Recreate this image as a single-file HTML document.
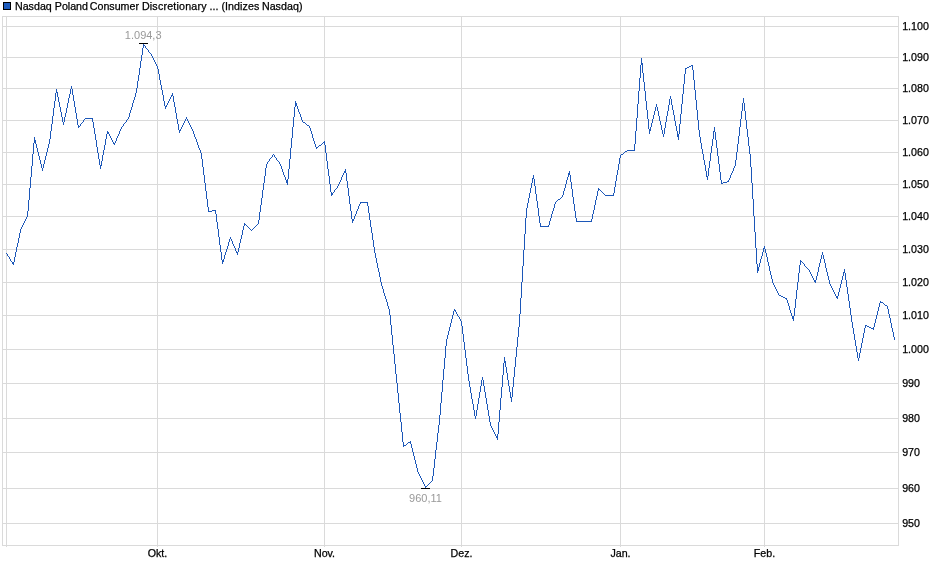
<!DOCTYPE html>
<html><head><meta charset="utf-8"><title>Chart</title>
<style>
html,body{margin:0;padding:0;background:#fff;}
body{width:940px;height:579px;overflow:hidden;font-family:"Liberation Sans",sans-serif;}
svg{display:block;will-change:transform;}
svg text{font-family:"Liberation Sans",sans-serif;font-size:10.67px;fill:#000;stroke:#000;stroke-width:0.25px;}
</style></head><body>
<svg width="940" height="579" viewBox="0 0 940 579">
<rect x="0" y="0" width="940" height="579" fill="#ffffff"/>
<g shape-rendering="crispEdges" stroke="#dadada" stroke-width="1" fill="none">
<rect x="2.5" y="16.5" width="896" height="529"/>
<line x1="3" y1="26.5" x2="898" y2="26.5"/>
<line x1="3" y1="57.5" x2="898" y2="57.5"/>
<line x1="3" y1="88.5" x2="898" y2="88.5"/>
<line x1="3" y1="120.5" x2="898" y2="120.5"/>
<line x1="3" y1="152.5" x2="898" y2="152.5"/>
<line x1="3" y1="184.5" x2="898" y2="184.5"/>
<line x1="3" y1="216.5" x2="898" y2="216.5"/>
<line x1="3" y1="249.5" x2="898" y2="249.5"/>
<line x1="3" y1="282.5" x2="898" y2="282.5"/>
<line x1="3" y1="315.5" x2="898" y2="315.5"/>
<line x1="3" y1="349.5" x2="898" y2="349.5"/>
<line x1="3" y1="383.5" x2="898" y2="383.5"/>
<line x1="3" y1="418.5" x2="898" y2="418.5"/>
<line x1="3" y1="452.5" x2="898" y2="452.5"/>
<line x1="3" y1="488.5" x2="898" y2="488.5"/>
<line x1="3" y1="523.5" x2="898" y2="523.5"/>
<line x1="6.5" y1="17" x2="6.5" y2="547"/>
<line x1="157.5" y1="17" x2="157.5" y2="547"/>
<line x1="324.5" y1="17" x2="324.5" y2="547"/>
<line x1="461.5" y1="17" x2="461.5" y2="547"/>
<line x1="620.5" y1="17" x2="620.5" y2="547"/>
<line x1="764.5" y1="17" x2="764.5" y2="547"/>
</g>
<rect x="3.5" y="2.5" width="7" height="7" fill="#1e5cbd" stroke="#000" stroke-width="1" shape-rendering="crispEdges"/>
<text x="15" y="9.7" style="letter-spacing:0px">Nasdaq</text>
<text x="54.8" y="9.7" style="letter-spacing:0px">Poland</text>
<text x="89.8" y="9.7" style="letter-spacing:0px">Consumer</text>
<text x="141.9" y="9.7" style="letter-spacing:0.2px">Discretionary</text>
<text x="209.6" y="9.7" style="letter-spacing:0px">...</text>
<text x="221.4" y="9.7" style="letter-spacing:0.08px">(Indizes</text>
<text x="261.9" y="9.7" style="letter-spacing:0.05px">Nasdaq)</text>
<text x="902.2" y="30.3">1.100</text>
<text x="902.2" y="61.3">1.090</text>
<text x="902.2" y="92.3">1.080</text>
<text x="902.2" y="124.3">1.070</text>
<text x="902.2" y="156.3">1.060</text>
<text x="902.2" y="188.3">1.050</text>
<text x="902.2" y="220.3">1.040</text>
<text x="902.2" y="253.3">1.030</text>
<text x="902.2" y="286.3">1.020</text>
<text x="902.2" y="319.3">1.010</text>
<text x="902.2" y="353.3">1.000</text>
<text x="902.2" y="387.3">990</text>
<text x="902.2" y="422.3">980</text>
<text x="902.2" y="456.3">970</text>
<text x="902.2" y="492.3">960</text>
<text x="902.2" y="527.3">950</text>
<text x="157.5" y="557" text-anchor="middle">Okt.</text>
<text x="324.5" y="557" text-anchor="middle">Nov.</text>
<text x="461.5" y="557" text-anchor="middle">Dez.</text>
<text x="620.5" y="557" text-anchor="middle">Jan.</text>
<text x="764.5" y="557" text-anchor="middle">Feb.</text>
<path shape-rendering="crispEdges" fill="#1c57b8" stroke="none" d="M6 253h1v1h-1zM7 254h1v2h-1zM8 256h1v1h-1zM9 257h1v2h-1zM10 259h1v2h-1zM11 261h1v1h-1zM12 262h1v2h-1zM13 262h1v3h-1zM14 257h1v5h-1zM15 252h1v5h-1zM16 247h1v5h-1zM17 243h1v4h-1zM18 238h1v5h-1zM19 233h1v5h-1zM20 229h1v4h-1zM21 227h1v2h-1zM22 225h1v2h-1zM23 223h1v2h-1zM24 221h1v2h-1zM25 219h1v2h-1zM26 217h1v2h-1zM27 211h1v6h-1zM28 200h1v11h-1zM29 188h1v12h-1zM30 177h1v11h-1zM31 166h1v11h-1zM32 154h1v12h-1zM33 143h1v11h-1zM34 137h1v6h-1zM35 140h1v4h-1zM36 144h1v4h-1zM37 148h1v4h-1zM38 152h1v4h-1zM39 156h1v4h-1zM40 160h1v4h-1zM41 164h1v4h-1zM42 168h1v3h-1zM43 164h1v4h-1zM44 160h1v4h-1zM45 156h1v4h-1zM46 152h1v4h-1zM47 148h1v4h-1zM48 144h1v4h-1zM49 139h1v5h-1zM50 131h1v8h-1zM51 124h1v7h-1zM52 116h1v8h-1zM53 108h1v8h-1zM54 101h1v7h-1zM55 93h1v8h-1zM56 89h1v4h-1zM57 92h1v5h-1zM58 97h1v5h-1zM59 102h1v5h-1zM60 107h1v5h-1zM61 112h1v5h-1zM62 117h1v5h-1zM63 122h1v3h-1zM64 117h1v5h-1zM65 113h1v4h-1zM66 108h1v5h-1zM67 103h1v5h-1zM68 98h1v5h-1zM69 94h1v4h-1zM70 89h1v5h-1zM71 86h1v3h-1zM72 89h1v6h-1zM73 95h1v6h-1zM74 101h1v6h-1zM75 107h1v6h-1zM76 113h1v6h-1zM77 119h1v6h-1zM78 125h1v3h-1zM79 126h1v1h-1zM80 124h1v2h-1zM81 123h1v1h-1zM82 122h1v1h-1zM83 120h1v2h-1zM84 119h1v1h-1zM85 118h1v1h-1zM86 118h1v1h-1zM87 118h1v1h-1zM88 118h1v1h-1zM89 118h1v1h-1zM90 118h1v1h-1zM91 118h1v1h-1zM92 118h1v4h-1zM93 122h1v6h-1zM94 128h1v6h-1zM95 134h1v6h-1zM96 140h1v7h-1zM97 147h1v6h-1zM98 153h1v6h-1zM99 159h1v6h-1zM100 165h1v4h-1zM101 161h1v5h-1zM102 155h1v6h-1zM103 150h1v5h-1zM104 145h1v5h-1zM105 139h1v6h-1zM106 134h1v5h-1zM107 131h1v3h-1zM108 132h1v2h-1zM109 134h1v2h-1zM110 136h1v2h-1zM111 138h1v2h-1zM112 140h1v2h-1zM113 142h1v2h-1zM114 143h1v2h-1zM115 141h1v2h-1zM116 138h1v3h-1zM117 136h1v2h-1zM118 134h1v2h-1zM119 131h1v3h-1zM120 129h1v2h-1zM121 127h1v2h-1zM122 126h1v1h-1zM123 124h1v2h-1zM124 123h1v1h-1zM125 122h1v1h-1zM126 120h1v2h-1zM127 119h1v1h-1zM128 117h1v2h-1zM129 113h1v4h-1zM130 110h1v3h-1zM131 107h1v3h-1zM132 103h1v4h-1zM133 100h1v3h-1zM134 97h1v3h-1zM135 93h1v4h-1zM136 88h1v5h-1zM137 81h1v7h-1zM138 75h1v6h-1zM139 68h1v7h-1zM140 61h1v7h-1zM141 55h1v6h-1zM142 48h1v7h-1zM143 44h1v4h-1zM144 45h1v1h-1zM145 46h1v2h-1zM146 48h1v1h-1zM147 49h1v1h-1zM148 50h1v2h-1zM149 52h1v1h-1zM150 53h1v1h-1zM151 54h1v2h-1zM152 56h1v2h-1zM153 58h1v2h-1zM154 60h1v2h-1zM155 62h1v2h-1zM156 64h1v2h-1zM157 66h1v3h-1zM158 69h1v5h-1zM159 74h1v6h-1zM160 80h1v5h-1zM161 85h1v5h-1zM162 90h1v5h-1zM163 95h1v6h-1zM164 101h1v5h-1zM165 106h1v3h-1zM166 105h1v2h-1zM167 103h1v2h-1zM168 101h1v2h-1zM169 99h1v2h-1zM170 97h1v2h-1zM171 95h1v2h-1zM172 93h1v3h-1zM173 96h1v6h-1zM174 102h1v5h-1zM175 107h1v6h-1zM176 113h1v6h-1zM177 119h1v5h-1zM178 124h1v6h-1zM179 130h1v3h-1zM180 129h1v2h-1zM181 127h1v2h-1zM182 125h1v2h-1zM183 123h1v2h-1zM184 121h1v2h-1zM185 119h1v2h-1zM186 117h1v2h-1zM187 119h1v2h-1zM188 121h1v2h-1zM189 123h1v2h-1zM190 125h1v2h-1zM191 127h1v2h-1zM192 129h1v2h-1zM193 131h1v3h-1zM194 134h1v3h-1zM195 137h1v2h-1zM196 139h1v3h-1zM197 142h1v3h-1zM198 145h1v3h-1zM199 148h1v2h-1zM200 150h1v3h-1zM201 153h1v6h-1zM202 159h1v8h-1zM203 167h1v8h-1zM204 175h1v8h-1zM205 183h1v8h-1zM206 191h1v8h-1zM207 199h1v8h-1zM208 207h1v5h-1zM209 211h1v1h-1zM210 211h1v1h-1zM211 211h1v1h-1zM212 210h1v1h-1zM213 210h1v1h-1zM214 210h1v1h-1zM215 210h1v4h-1zM216 214h1v8h-1zM217 222h1v7h-1zM218 229h1v8h-1zM219 237h1v8h-1zM220 245h1v7h-1zM221 252h1v8h-1zM222 260h1v4h-1zM223 259h1v3h-1zM224 255h1v4h-1zM225 252h1v3h-1zM226 249h1v3h-1zM227 246h1v3h-1zM228 242h1v4h-1zM229 239h1v3h-1zM230 237h1v2h-1zM231 239h1v2h-1zM232 241h1v3h-1zM233 244h1v2h-1zM234 246h1v2h-1zM235 248h1v3h-1zM236 251h1v2h-1zM237 252h1v3h-1zM238 248h1v4h-1zM239 243h1v5h-1zM240 239h1v4h-1zM241 235h1v4h-1zM242 230h1v5h-1zM243 226h1v4h-1zM244 223h1v3h-1zM245 224h1v1h-1zM246 225h1v1h-1zM247 226h1v1h-1zM248 227h1v1h-1zM249 228h1v1h-1zM250 229h1v1h-1zM251 230h1v1h-1zM252 229h1v1h-1zM253 228h1v1h-1zM254 227h1v1h-1zM255 226h1v1h-1zM256 225h1v1h-1zM257 224h1v1h-1zM258 220h1v4h-1zM259 212h1v8h-1zM260 205h1v7h-1zM261 198h1v7h-1zM262 190h1v8h-1zM263 183h1v7h-1zM264 176h1v7h-1zM265 168h1v8h-1zM266 164h1v4h-1zM267 162h1v2h-1zM268 161h1v1h-1zM269 159h1v2h-1zM270 158h1v1h-1zM271 157h1v1h-1zM272 155h1v2h-1zM273 154h1v1h-1zM274 155h1v2h-1zM275 157h1v1h-1zM276 158h1v2h-1zM277 160h1v1h-1zM278 161h1v1h-1zM279 162h1v2h-1zM280 164h1v2h-1zM281 166h1v3h-1zM282 169h1v3h-1zM283 172h1v3h-1zM284 175h1v2h-1zM285 177h1v3h-1zM286 180h1v3h-1zM287 179h1v6h-1zM288 169h1v10h-1zM289 159h1v10h-1zM290 148h1v11h-1zM291 138h1v10h-1zM292 127h1v11h-1zM293 117h1v10h-1zM294 107h1v10h-1zM295 101h1v6h-1zM296 103h1v3h-1zM297 106h1v3h-1zM298 109h1v3h-1zM299 112h1v2h-1zM300 114h1v3h-1zM301 117h1v3h-1zM302 120h1v2h-1zM303 122h1v1h-1zM304 122h1v1h-1zM305 123h1v1h-1zM306 124h1v1h-1zM307 125h1v1h-1zM308 125h1v1h-1zM309 126h1v2h-1zM310 128h1v3h-1zM311 131h1v3h-1zM312 134h1v4h-1zM313 138h1v3h-1zM314 141h1v3h-1zM315 144h1v3h-1zM316 147h1v2h-1zM317 147h1v1h-1zM318 146h1v1h-1zM319 145h1v1h-1zM320 145h1v1h-1zM321 144h1v1h-1zM322 143h1v1h-1zM323 142h1v1h-1zM324 141h1v4h-1zM325 145h1v8h-1zM326 153h1v8h-1zM327 161h1v8h-1zM328 169h1v7h-1zM329 176h1v8h-1zM330 184h1v8h-1zM331 192h1v4h-1zM332 193h1v2h-1zM333 192h1v1h-1zM334 190h1v2h-1zM335 189h1v1h-1zM336 188h1v1h-1zM337 186h1v2h-1zM338 184h1v2h-1zM339 182h1v2h-1zM340 180h1v2h-1zM341 177h1v3h-1zM342 175h1v2h-1zM343 173h1v2h-1zM344 171h1v2h-1zM345 169h1v4h-1zM346 173h1v8h-1zM347 181h1v7h-1zM348 188h1v8h-1zM349 196h1v8h-1zM350 204h1v7h-1zM351 211h1v8h-1zM352 219h1v4h-1zM353 219h1v2h-1zM354 216h1v3h-1zM355 214h1v2h-1zM356 211h1v3h-1zM357 209h1v2h-1zM358 206h1v3h-1zM359 204h1v2h-1zM360 202h1v2h-1zM361 202h1v1h-1zM362 202h1v1h-1zM363 202h1v1h-1zM364 202h1v1h-1zM365 202h1v1h-1zM366 202h1v1h-1zM367 202h1v4h-1zM368 206h1v7h-1zM369 213h1v7h-1zM370 220h1v7h-1zM371 227h1v6h-1zM372 233h1v7h-1zM373 240h1v7h-1zM374 247h1v6h-1zM375 253h1v5h-1zM376 258h1v5h-1zM377 263h1v5h-1zM378 268h1v4h-1zM379 272h1v5h-1zM380 277h1v5h-1zM381 282h1v4h-1zM382 286h1v3h-1zM383 289h1v4h-1zM384 293h1v3h-1zM385 296h1v3h-1zM386 299h1v3h-1zM387 302h1v4h-1zM388 306h1v3h-1zM389 309h1v6h-1zM390 315h1v10h-1zM391 325h1v10h-1zM392 335h1v10h-1zM393 345h1v9h-1zM394 354h1v10h-1zM395 364h1v10h-1zM396 374h1v9h-1zM397 383h1v10h-1zM398 393h1v10h-1zM399 403h1v10h-1zM400 413h1v9h-1zM401 422h1v10h-1zM402 432h1v10h-1zM403 442h1v5h-1zM404 445h1v1h-1zM405 445h1v1h-1zM406 444h1v1h-1zM407 443h1v1h-1zM408 442h1v1h-1zM409 442h1v1h-1zM410 441h1v3h-1zM411 444h1v4h-1zM412 448h1v4h-1zM413 452h1v4h-1zM414 456h1v4h-1zM415 460h1v4h-1zM416 464h1v4h-1zM417 468h1v4h-1zM418 472h1v2h-1zM419 474h1v2h-1zM420 476h1v2h-1zM421 478h1v2h-1zM422 480h1v2h-1zM423 482h1v2h-1zM424 484h1v2h-1zM425 486h1v2h-1zM426 486h1v1h-1zM427 485h1v1h-1zM428 484h1v1h-1zM429 483h1v1h-1zM430 482h1v1h-1zM431 481h1v1h-1zM432 476h1v5h-1zM433 468h1v8h-1zM434 459h1v9h-1zM435 450h1v9h-1zM436 442h1v8h-1zM437 433h1v9h-1zM438 425h1v8h-1zM439 415h1v10h-1zM440 403h1v12h-1zM441 392h1v11h-1zM442 380h1v12h-1zM443 369h1v11h-1zM444 358h1v11h-1zM445 346h1v12h-1zM446 339h1v7h-1zM447 335h1v4h-1zM448 331h1v4h-1zM449 327h1v4h-1zM450 323h1v4h-1zM451 319h1v4h-1zM452 315h1v4h-1zM453 311h1v4h-1zM454 309h1v2h-1zM455 310h1v2h-1zM456 312h1v2h-1zM457 314h1v2h-1zM458 316h1v1h-1zM459 317h1v2h-1zM460 319h1v2h-1zM461 321h1v5h-1zM462 326h1v8h-1zM463 334h1v8h-1zM464 342h1v8h-1zM465 350h1v8h-1zM466 358h1v8h-1zM467 366h1v8h-1zM468 374h1v7h-1zM469 381h1v6h-1zM470 387h1v6h-1zM471 393h1v6h-1zM472 399h1v5h-1zM473 404h1v6h-1zM474 410h1v6h-1zM475 416h1v3h-1zM476 410h1v6h-1zM477 404h1v6h-1zM478 398h1v6h-1zM479 392h1v6h-1zM480 386h1v6h-1zM481 380h1v6h-1zM482 377h1v3h-1zM483 380h1v6h-1zM484 386h1v6h-1zM485 392h1v6h-1zM486 398h1v6h-1zM487 404h1v6h-1zM488 410h1v6h-1zM489 416h1v6h-1zM490 422h1v4h-1zM491 426h1v2h-1zM492 428h1v2h-1zM493 430h1v2h-1zM494 432h1v2h-1zM495 434h1v2h-1zM496 436h1v2h-1zM497 434h1v6h-1zM498 422h1v12h-1zM499 410h1v12h-1zM500 398h1v12h-1zM501 387h1v11h-1zM502 375h1v12h-1zM503 363h1v12h-1zM504 357h1v6h-1zM505 361h1v6h-1zM506 367h1v6h-1zM507 373h1v7h-1zM508 380h1v6h-1zM509 386h1v6h-1zM510 392h1v6h-1zM511 397h1v5h-1zM512 387h1v10h-1zM513 377h1v10h-1zM514 367h1v10h-1zM515 357h1v10h-1zM516 347h1v10h-1zM517 337h1v10h-1zM518 327h1v10h-1zM519 314h1v13h-1zM520 298h1v16h-1zM521 282h1v16h-1zM522 266h1v16h-1zM523 250h1v16h-1zM524 234h1v16h-1zM525 218h1v16h-1zM526 208h1v10h-1zM527 203h1v5h-1zM528 198h1v5h-1zM529 193h1v5h-1zM530 188h1v5h-1zM531 183h1v5h-1zM532 178h1v5h-1zM533 175h1v4h-1zM534 179h1v7h-1zM535 186h1v8h-1zM536 194h1v7h-1zM537 201h1v7h-1zM538 208h1v8h-1zM539 216h1v7h-1zM540 223h1v4h-1zM541 226h1v1h-1zM542 226h1v1h-1zM543 226h1v1h-1zM544 226h1v1h-1zM545 226h1v1h-1zM546 226h1v1h-1zM547 226h1v1h-1zM548 225h1v2h-1zM549 221h1v4h-1zM550 218h1v3h-1zM551 214h1v4h-1zM552 211h1v3h-1zM553 208h1v3h-1zM554 204h1v4h-1zM555 202h1v2h-1zM556 201h1v1h-1zM557 200h1v1h-1zM558 199h1v1h-1zM559 199h1v1h-1zM560 198h1v1h-1zM561 197h1v1h-1zM562 195h1v2h-1zM563 191h1v4h-1zM564 188h1v3h-1zM565 184h1v4h-1zM566 180h1v4h-1zM567 177h1v3h-1zM568 173h1v4h-1zM569 171h1v4h-1zM570 175h1v7h-1zM571 182h1v7h-1zM572 189h1v8h-1zM573 197h1v7h-1zM574 204h1v7h-1zM575 211h1v7h-1zM576 218h1v4h-1zM577 221h1v1h-1zM578 221h1v1h-1zM579 221h1v1h-1zM580 221h1v1h-1zM581 221h1v1h-1zM582 221h1v1h-1zM583 221h1v1h-1zM584 221h1v1h-1zM585 221h1v1h-1zM586 221h1v1h-1zM587 221h1v1h-1zM588 221h1v1h-1zM589 221h1v1h-1zM590 221h1v1h-1zM591 219h1v3h-1zM592 214h1v5h-1zM593 210h1v4h-1zM594 205h1v5h-1zM595 200h1v5h-1zM596 196h1v4h-1zM597 191h1v5h-1zM598 188h1v3h-1zM599 189h1v1h-1zM600 190h1v1h-1zM601 191h1v1h-1zM602 192h1v1h-1zM603 193h1v1h-1zM604 194h1v1h-1zM605 195h1v1h-1zM606 195h1v1h-1zM607 195h1v1h-1zM608 195h1v1h-1zM609 195h1v1h-1zM610 195h1v1h-1zM611 195h1v1h-1zM612 195h1v1h-1zM613 193h1v3h-1zM614 187h1v6h-1zM615 181h1v6h-1zM616 175h1v6h-1zM617 170h1v5h-1zM618 164h1v6h-1zM619 158h1v6h-1zM620 155h1v3h-1zM621 154h1v1h-1zM622 154h1v1h-1zM623 153h1v1h-1zM624 152h1v1h-1zM625 151h1v1h-1zM626 151h1v1h-1zM627 150h1v1h-1zM628 150h1v1h-1zM629 150h1v1h-1zM630 150h1v1h-1zM631 150h1v1h-1zM632 150h1v1h-1zM633 150h1v1h-1zM634 144h1v7h-1zM635 131h1v13h-1zM636 118h1v13h-1zM637 104h1v14h-1zM638 91h1v13h-1zM639 78h1v13h-1zM640 65h1v13h-1zM641 58h1v7h-1zM642 63h1v10h-1zM643 73h1v9h-1zM644 82h1v9h-1zM645 91h1v10h-1zM646 101h1v9h-1zM647 110h1v9h-1zM648 119h1v10h-1zM649 129h1v5h-1zM650 127h1v4h-1zM651 123h1v4h-1zM652 119h1v4h-1zM653 115h1v4h-1zM654 111h1v4h-1zM655 107h1v4h-1zM656 104h1v3h-1zM657 107h1v4h-1zM658 111h1v5h-1zM659 116h1v5h-1zM660 121h1v4h-1zM661 125h1v5h-1zM662 130h1v4h-1zM663 134h1v3h-1zM664 128h1v6h-1zM665 122h1v6h-1zM666 116h1v6h-1zM667 111h1v5h-1zM668 105h1v6h-1zM669 99h1v6h-1zM670 96h1v3h-1zM671 99h1v6h-1zM672 105h1v5h-1zM673 110h1v5h-1zM674 115h1v6h-1zM675 121h1v5h-1zM676 126h1v5h-1zM677 131h1v6h-1zM678 134h1v6h-1zM679 124h1v10h-1zM680 114h1v10h-1zM681 104h1v10h-1zM682 94h1v10h-1zM683 84h1v10h-1zM684 74h1v10h-1zM685 68h1v6h-1zM686 68h1v1h-1zM687 67h1v1h-1zM688 67h1v1h-1zM689 66h1v1h-1zM690 66h1v1h-1zM691 65h1v1h-1zM692 65h1v5h-1zM693 70h1v10h-1zM694 80h1v10h-1zM695 90h1v10h-1zM696 100h1v10h-1zM697 110h1v10h-1zM698 120h1v10h-1zM699 130h1v7h-1zM700 137h1v6h-1zM701 143h1v6h-1zM702 149h1v5h-1zM703 154h1v6h-1zM704 160h1v5h-1zM705 165h1v6h-1zM706 171h1v6h-1zM707 176h1v4h-1zM708 168h1v8h-1zM709 161h1v7h-1zM710 153h1v8h-1zM711 146h1v7h-1zM712 139h1v7h-1zM713 131h1v8h-1zM714 127h1v5h-1zM715 132h1v8h-1zM716 140h1v8h-1zM717 148h1v8h-1zM718 156h1v8h-1zM719 164h1v8h-1zM720 172h1v8h-1zM721 180h1v4h-1zM722 183h1v1h-1zM723 182h1v1h-1zM724 182h1v1h-1zM725 182h1v1h-1zM726 182h1v1h-1zM727 181h1v1h-1zM728 180h1v2h-1zM729 178h1v2h-1zM730 175h1v3h-1zM731 173h1v2h-1zM732 171h1v2h-1zM733 168h1v3h-1zM734 166h1v2h-1zM735 160h1v6h-1zM736 152h1v8h-1zM737 144h1v8h-1zM738 136h1v8h-1zM739 127h1v9h-1zM740 119h1v8h-1zM741 111h1v8h-1zM742 103h1v8h-1zM743 98h1v5h-1zM744 103h1v8h-1zM745 111h1v9h-1zM746 120h1v9h-1zM747 129h1v8h-1zM748 137h1v9h-1zM749 146h1v8h-1zM750 154h1v13h-1zM751 167h1v16h-1zM752 183h1v16h-1zM753 199h1v17h-1zM754 216h1v16h-1zM755 232h1v16h-1zM756 248h1v16h-1zM757 264h1v9h-1zM758 267h1v4h-1zM759 263h1v4h-1zM760 259h1v4h-1zM761 256h1v3h-1zM762 252h1v4h-1zM763 248h1v4h-1zM764 246h1v3h-1zM765 249h1v4h-1zM766 253h1v4h-1zM767 257h1v5h-1zM768 262h1v4h-1zM769 266h1v5h-1zM770 271h1v4h-1zM771 275h1v4h-1zM772 279h1v4h-1zM773 283h1v2h-1zM774 285h1v2h-1zM775 287h1v2h-1zM776 289h1v2h-1zM777 291h1v2h-1zM778 293h1v2h-1zM779 295h1v1h-1zM780 295h1v1h-1zM781 296h1v1h-1zM782 296h1v1h-1zM783 297h1v1h-1zM784 297h1v1h-1zM785 298h1v1h-1zM786 298h1v2h-1zM787 300h1v3h-1zM788 303h1v3h-1zM789 306h1v4h-1zM790 310h1v3h-1zM791 313h1v3h-1zM792 316h1v3h-1zM793 316h1v5h-1zM794 308h1v8h-1zM795 299h1v9h-1zM796 290h1v9h-1zM797 282h1v8h-1zM798 273h1v9h-1zM799 265h1v8h-1zM800 260h1v5h-1zM801 261h1v1h-1zM802 262h1v1h-1zM803 263h1v1h-1zM804 264h1v2h-1zM805 266h1v1h-1zM806 267h1v1h-1zM807 268h1v1h-1zM808 269h1v1h-1zM809 270h1v2h-1zM810 272h1v2h-1zM811 274h1v2h-1zM812 276h1v2h-1zM813 278h1v2h-1zM814 280h1v2h-1zM815 280h1v3h-1zM816 276h1v4h-1zM817 272h1v4h-1zM818 267h1v5h-1zM819 263h1v4h-1zM820 259h1v4h-1zM821 255h1v4h-1zM822 252h1v3h-1zM823 255h1v4h-1zM824 259h1v4h-1zM825 263h1v5h-1zM826 268h1v4h-1zM827 272h1v4h-1zM828 276h1v4h-1zM829 280h1v4h-1zM830 284h1v2h-1zM831 286h1v2h-1zM832 288h1v2h-1zM833 290h1v2h-1zM834 292h1v2h-1zM835 294h1v2h-1zM836 296h1v2h-1zM837 296h1v3h-1zM838 292h1v4h-1zM839 288h1v4h-1zM840 284h1v4h-1zM841 280h1v4h-1zM842 276h1v4h-1zM843 272h1v4h-1zM844 269h1v4h-1zM845 273h1v7h-1zM846 280h1v7h-1zM847 287h1v7h-1zM848 294h1v7h-1zM849 301h1v7h-1zM850 308h1v7h-1zM851 315h1v7h-1zM852 322h1v6h-1zM853 328h1v6h-1zM854 334h1v6h-1zM855 340h1v6h-1zM856 346h1v6h-1zM857 352h1v6h-1zM858 358h1v3h-1zM859 353h1v5h-1zM860 348h1v5h-1zM861 343h1v5h-1zM862 338h1v5h-1zM863 333h1v5h-1zM864 328h1v5h-1zM865 325h1v3h-1zM866 325h1v1h-1zM867 326h1v1h-1zM868 326h1v1h-1zM869 327h1v1h-1zM870 327h1v1h-1zM871 328h1v1h-1zM872 328h1v1h-1zM873 327h1v3h-1zM874 323h1v4h-1zM875 319h1v4h-1zM876 315h1v4h-1zM877 311h1v4h-1zM878 307h1v4h-1zM879 303h1v4h-1zM880 301h1v2h-1zM881 302h1v1h-1zM882 302h1v1h-1zM883 303h1v1h-1zM884 304h1v1h-1zM885 305h1v1h-1zM886 305h1v1h-1zM887 306h1v3h-1zM888 309h1v5h-1zM889 314h1v4h-1zM890 318h1v5h-1zM891 323h1v5h-1zM892 328h1v4h-1zM893 332h1v5h-1zM894 337h1v3h-1z"/>
<g shape-rendering="crispEdges" stroke="#000" stroke-width="1"><line x1="139" y1="43.5" x2="148" y2="43.5"/><line x1="421" y1="488.5" x2="430" y2="488.5"/></g>
<text x="143.2" y="39.2" text-anchor="middle" style="fill:#999;stroke:none;font-size:11px">1.094,3</text>
<text x="425.5" y="502" text-anchor="middle" style="fill:#999;stroke:none;font-size:11px">960,11</text>
</svg>
</body></html>
